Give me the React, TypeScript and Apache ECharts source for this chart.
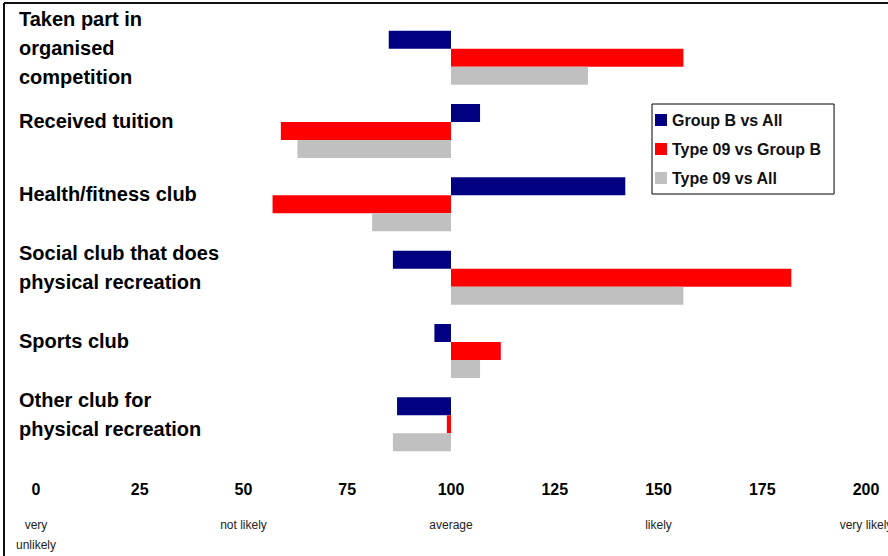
import React, { useEffect, useRef } from "react";
import * as echarts from "echarts";

const categories = [
  "Taken part in\norganised\ncompetition",
  "Received tuition",
  "Health/fitness club",
  "Social club that does\nphysical recreation",
  "Sports club",
  "Other club for\nphysical recreation",
];
const seriesNames = ["Group B vs All", "Type 09 vs Group B", "Type 09 vs All"];
const groupBvsAll = [85, 107, 142, 86, 96, 87];
const type09vsGroupB = [156, 59, 57, 182, 112, 99];
const type09vsAll = [133, 63, 81, 156, 107, 86];
const colors = ["#000080", "#FF0000", "#C0C0C0"];
const baseline = 100;
const scaleLabels = ["very\nunlikely", "not likely", "average", "likely", "very likely"];

export default function App() {
  const ref = useRef<HTMLDivElement>(null);
  useEffect(() => {
    if (!ref.current) return;
    const chart = echarts.init(ref.current, undefined, { renderer: "svg" });
    const allSeries = [groupBvsAll, type09vsGroupB, type09vsAll];
    chart.setOption({
      animation: false,
      backgroundColor: "#fff",
      grid: { left: 36, right: 22, top: 21, height: 440, containLabel: false, outerBoundsMode: "none" },
      legend: {
        data: seriesNames,
        orient: "vertical",
        left: 652,
        top: 104,
        backgroundColor: "#fff",
        borderColor: "#000",
        borderWidth: 1,
        borderRadius: 0,
        padding: [8, 13, 8, 3],
        itemWidth: 12,
        itemHeight: 12,
        itemGap: 13,
        icon: "rect",
        textStyle: {
          fontFamily: "Liberation Sans, Arial, sans-serif",
          fontWeight: "bold",
          fontSize: 16,
          color: "#111",
        },
      },
      xAxis: [
        {
          type: "value",
          min: -100,
          max: 100,
          interval: 25,
          position: "bottom",
          axisLine: { show: false },
          axisTick: { show: false },
          splitLine: { show: false },
          axisLabel: {
            margin: 20,
            fontFamily: "Liberation Sans, Arial, sans-serif",
            fontWeight: "bold",
            fontSize: 16,
            color: "#000",
            formatter: (v: number) => String(v + baseline),
          },
        },
        {
          type: "value",
          min: -100,
          max: 100,
          interval: 50,
          position: "bottom",
          axisLine: { show: false },
          axisTick: { show: false },
          splitLine: { show: false },
          axisLabel: {
            margin: 54,
            fontFamily: "Liberation Sans Narrow, Arial Narrow, Liberation Sans, sans-serif",
            fontSize: 12,
            lineHeight: 20,
            verticalAlign: "top",
            color: "#222",
            formatter: (_v: number, i: number) => scaleLabels[i],
          },
        },
      ],
      yAxis: {
        type: "category",
        data: categories,
        inverse: true,
        axisLine: { show: false },
        axisTick: { show: false },
        splitLine: { show: false },
        axisLabel: {
          interval: 0,
          margin: 17,
          align: "left",
          color: "#000",
          formatter: (v: string) =>
            v.split("\n").map((line) => `{t|${line}}`).join("\n") + "\n{s| }",
          rich: {
            t: {
              fontFamily: "Liberation Sans, Arial, sans-serif",
              fontWeight: "bold",
              fontSize: 20,
              lineHeight: 29,
              color: "#000",
            },
            s: { fontSize: 4, lineHeight: 20 },
          },
        },
      },
      series: allSeries.map((vals, i) => ({
        type: "bar",
        name: seriesNames[i],
        xAxisIndex: 0,
        barWidth: 18,
        barGap: "0%",
        itemStyle: { color: colors[i] },
        data: vals.map((v) => v - baseline),
      })),
      graphic: [
        { type: "line", shape: { x1: 4, y1: 3, x2: 888, y2: 3 }, style: { stroke: "#111", lineWidth: 2 } },
        { type: "line", shape: { x1: 4, y1: 3, x2: 4, y2: 556 }, style: { stroke: "#111", lineWidth: 2 } },
      ],
    });
    return () => chart.dispose();
  }, []);
  return (
    <div style={{ position: "fixed", left: 0, top: 0, width: 888, height: 556, background: "#fff" }}>
      <div ref={ref} style={{ width: 888, height: 556 }} />
    </div>
  );
}
